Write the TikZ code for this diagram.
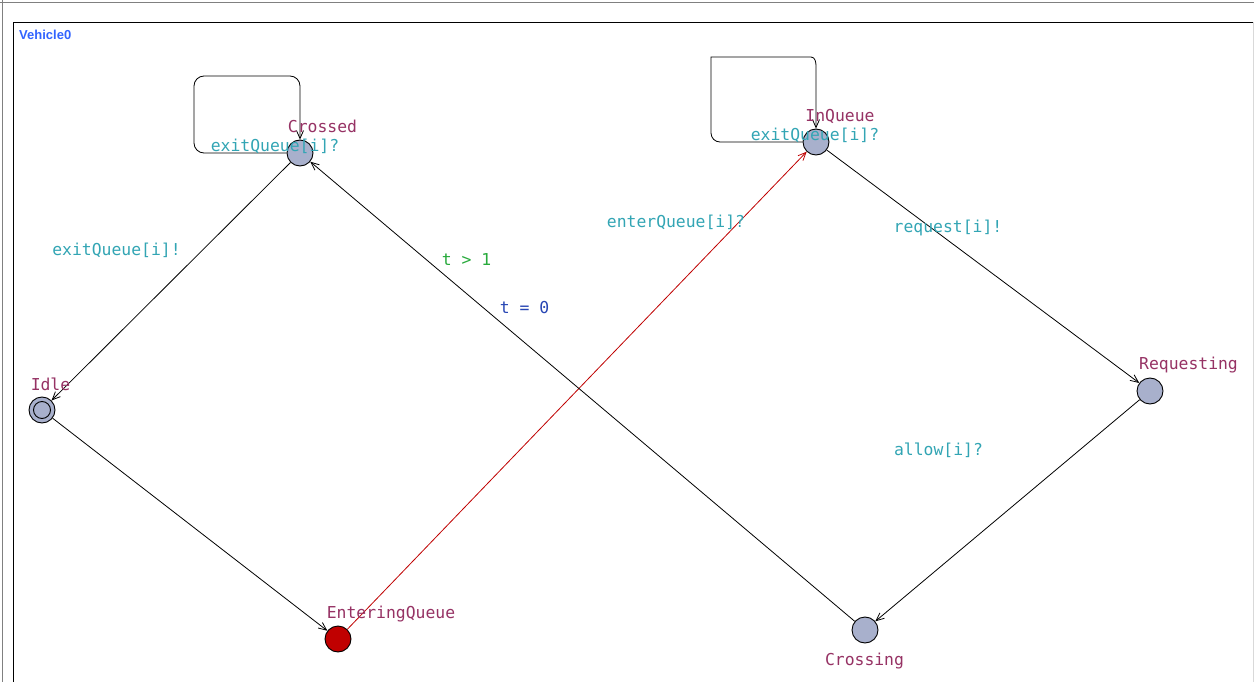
\documentclass[tikz,border=0pt]{standalone}
\usepackage{fontspec}
\setmainfont{DejaVu Sans Mono}
\newfontfamily\titlefont{Liberation Sans}
\usetikzlibrary{arrows.meta}
\definecolor{locname}{RGB}{150,50,100}
\definecolor{synccol}{RGB}{50,165,180}
\definecolor{guardcol}{RGB}{40,170,60}
\definecolor{updcol}{RGB}{40,70,180}
\definecolor{locfill}{RGB}{168,176,204}
\definecolor{urgred}{RGB}{192,0,0}
\definecolor{titleblue}{RGB}{50,100,255}
\tikzset{
  loc/.style={circle,draw=black,fill=locfill,minimum size=26pt,inner sep=0pt,line width=0.9pt},
  lname/.style={text=locname,font=\fontsize{16.4}{18}\selectfont,inner sep=0pt},
  sync/.style={text=synccol,font=\fontsize{16.4}{18}\selectfont,inner sep=0pt},
  guard/.style={text=guardcol,font=\fontsize{16.4}{18}\selectfont,inner sep=0pt},
  upd/.style={text=updcol,font=\fontsize{16.4}{18}\selectfont,inner sep=0pt},
  edge/.style={draw=black,line width=0.8pt,-{Straight Barb[length=8pt,width=7pt]}},
}
\begin{document}
\begin{tikzpicture}[x=1pt,y=-1pt]
\useasboundingbox (0,0) rectangle (1254,682);
\fill[white] (0,0) rectangle (1254,682);
% frame
\draw[gray,line width=1pt] (0,2.5) -- (1254,2.5);
\draw[gray,line width=1pt] (2.5,0) -- (2.5,682);
\draw[black,line width=1pt] (13.5,682) -- (13.5,22.5) -- (1254,22.5);
\draw[gray!30,line width=1pt] (1253,22.5) -- (1253,682);
\node[anchor=west,inner sep=0pt,text=titleblue,font=\titlefont\bfseries\fontsize{13}{14}\selectfont] (title) at (19,35) {Vehicle0};
% locations
\node[loc] (Crossed) at (300,153) {};
\node[loc] (InQueue) at (816,142) {};
\node[loc] (Idle) at (42,410) {};
\draw[line width=0.9pt] (Idle) circle (8.5pt);
\node[loc,fill=urgred] (Entering) at (338,639) {};
\node[loc] (Crossing) at (865,630) {};
\node[loc] (Requesting) at (1150,391) {};
% edges
\draw[edge] (Crossed) -- (Idle);
\draw[edge] (Idle) -- (Entering);
\draw[edge,draw=urgred] (Entering) -- (InQueue);
\draw[edge] (InQueue) -- (Requesting);
\draw[edge] (Requesting) -- (Crossing);
\draw[edge] (Crossing) -- (Crossed);
\draw[edge,rounded corners=10pt] (Crossed.west) -- (194,153) -- (194,76) -- (300,76) -- (Crossed.north);
\draw[edge] (InQueue.west) -- (720,142) to[out=180,in=-90] (711,133) -- (711,57) -- (811,57) to[out=0,in=90] (816,66) -- (InQueue.north);
% location names
\node[lname] (nCrossed) at (322.5,126.5) {Crossed};
\node[lname] (nInQueue) at (840,116.5) {InQueue};
\node[lname] (nIdle) at (50.5,384.5) {Idle};
\node[lname] (nEntering) at (391,614.5) {EnteringQueue};
\node[lname] (nCrossing) at (864.5,661.5) {Crossing};
\node[lname] (nRequesting) at (1188.5,365.5) {Requesting};
% edge labels
\node[sync] (s1) at (275,146) {exitQueue[i]?};
\node[sync] (s2) at (815,135) {exitQueue[i]?};
\node[sync] (s3) at (116.5,250) {exitQueue[i]!};
\node[sync] (s4) at (676,222) {enterQueue[i]?};
\node[sync] (s5) at (948,227.5) {request[i]!};
\node[sync] (s6) at (938.5,450) {allow[i]?};
\node[guard] (g1) at (466.5,260) {t > 1};
\node[upd] (u1) at (524.5,308) {t = 0};
\end{tikzpicture}
\end{document}
